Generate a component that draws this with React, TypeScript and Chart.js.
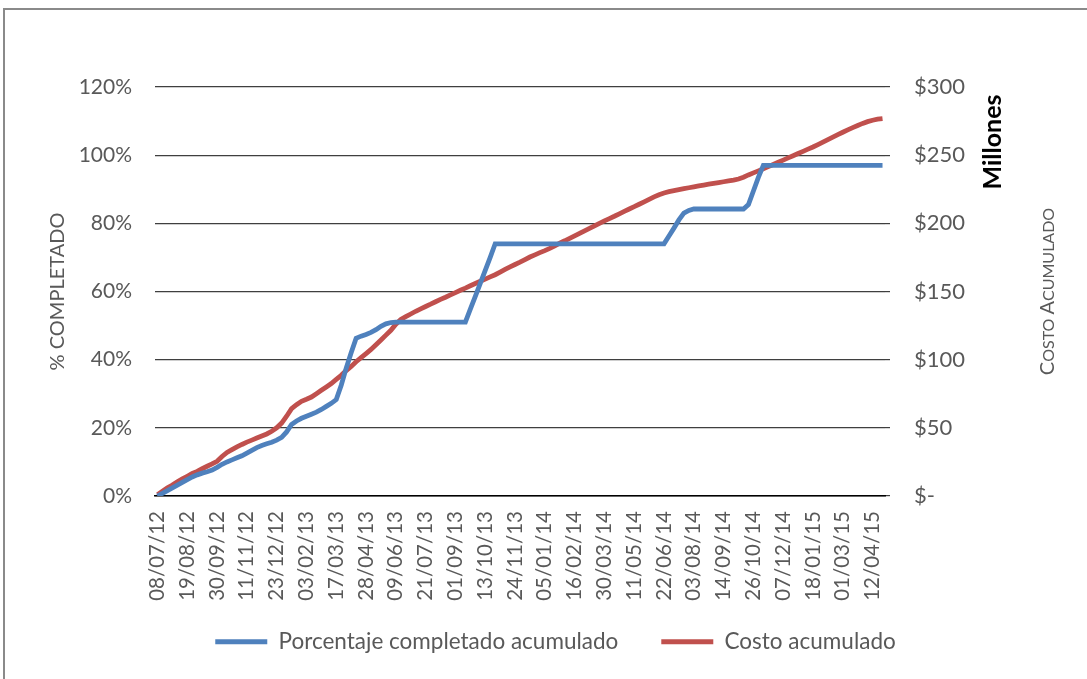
import React, { useEffect, useRef } from "react";
import { Chart, registerables } from "chart.js";

Chart.register(...registerables);

// Weekly series starting 08/07/12 (one value per week)
const START_DATE = { year: 2012, month: 7, day: 8 };
const WEEK_STEP_DAYS = 7;
const LABEL_EVERY = 6;

// % completado acumulado (percent)
const PCT_COMPLETED = [
  0, 0.8, 1.6, 2.4, 3.2, 4.0, 4.8, 5.6, 6.2, 6.7,
  7.1, 7.6, 8.4, 9.3, 10.0, 10.6, 11.2, 11.8, 12.6, 13.4,
  14.2, 14.8, 15.3, 15.8, 16.4, 17.2, 18.8, 21.0, 22.0, 22.8,
  23.4, 24.0, 24.6, 25.4, 26.3, 27.2, 28.3, 32.5, 37.5, 42.0,
  46.3, 46.9, 47.4, 48.0, 48.8, 49.8, 50.5, 50.9, 51, 51,
  51, 51, 51, 51, 51, 51, 51, 51, 51, 51,
  51, 51, 51, 54.8, 58.6, 62.4, 66.2, 70, 74, 74,
  74, 74, 74, 74, 74, 74, 74, 74, 74, 74,
  74, 74, 74, 74, 74, 74, 74, 74, 74, 74,
  74, 74, 74, 74, 74, 74, 74, 74, 74, 74,
  74, 74, 74, 76.3, 78.6, 81, 83, 83.8, 84.2, 84.2,
  84.2, 84.2, 84.2, 84.2, 84.2, 84.2, 84.2, 84.2, 84.2, 85.5,
  89.5, 93.5, 97, 97, 97, 97, 97, 97, 97, 97,
  97, 97, 97, 97, 97, 97, 97, 97, 97, 97,
  97, 97, 97, 97, 97, 97, 97,
];

// Costo acumulado (millones $)
const COST_ACCUM = [
  1, 3.5, 6, 8, 10.5, 12.5, 14.5, 16.5, 18, 20,
  21.8, 23.5, 25.5, 29, 32, 34, 36, 37.8, 39.5, 41,
  42.5, 44, 45.5, 47.5, 50, 53.5, 58.5, 64, 67, 69.5,
  71, 72.6, 75, 77.5, 80, 82.5, 85.5, 88.5, 92, 95,
  98.5, 101.5, 104.5, 107.5, 111, 114.5, 118, 121.5, 126, 129.5,
  131.5, 133.5, 135.5, 137.3, 139, 140.7, 142.5, 144.2, 145.8, 147.5,
  149.2, 150.9, 152.5, 154.2, 155.9, 157.5, 159.1, 160.7, 162.3, 164.2,
  166.2, 168, 169.8, 171.5, 173.4, 175.3, 176.9, 178.5, 180, 181.6,
  183.4, 185.5, 187.2, 189, 190.8, 192.7, 194.5, 196.3, 198.2, 200,
  201.8, 203.5, 205.2, 207, 208.8, 210.5, 212.2, 214, 215.8, 217.6,
  219.4, 221, 222.3, 223.2, 224, 224.7, 225.4, 226.1, 226.8, 227.5,
  228.1, 228.7, 229.3, 229.9, 230.5, 231.1, 231.7, 232.5, 233.8, 235.5,
  237, 238.5, 240, 241.6, 243.2, 244.8, 246.4, 248, 249.6, 251.2,
  252.8, 254.4, 256, 257.8, 259.6, 261.4, 263.2, 265, 266.8, 268.5,
  270.2, 271.8, 273.3, 274.6, 275.6, 276.4, 276.8,
];

const SERIES_NAMES = ["Porcentaje completado acumulado", "Costo acumulado"];
const LEFT_TITLE = "% COMPLETADO";
const RIGHT_UNIT = "Millones";
const RIGHT_TITLE_PARTS: [string, boolean][] = [
  ["C", true],
  ["OSTO ", false],
  ["A", true],
  ["CUMULADO", false],
];

function pad2(n: number) {
  return n < 10 ? "0" + n : String(n);
}

function buildWeeklyDates(count: number): string[] {
  const base = Date.UTC(START_DATE.year, START_DATE.month - 1, START_DATE.day);
  const out: string[] = [];
  for (let i = 0; i < count; i++) {
    const d = new Date(base + i * WEEK_STEP_DAYS * 86400000);
    out.push(
      pad2(d.getUTCDate()) + "/" + pad2(d.getUTCMonth() + 1) + "/" + pad2(d.getUTCFullYear() % 100)
    );
  }
  return out;
}

const CATEGORIES = buildWeeklyDates(PCT_COMPLETED.length);

const FONT = "Lato, 'Open Sans', sans-serif";
const TEXT_GRAY = "#595959";
const GRID = "#3f3f3f";
const BLUE = "#4f81bd";
const RED = "#c0504d";

const sideTitles = {
  id: "sideTitles",
  afterLayout(chart: any) {
    // lift the legend row closer to the axis labels
    const lg = chart.legend;
    if (lg) {
      lg.top -= 16;
      lg.bottom -= 16;
    }
  },
  afterDraw(chart: any) {
    const { ctx, chartArea } = chart;
    const midY = (chartArea.top + chartArea.bottom) / 2;
    ctx.save();
    // "Millones"
    ctx.save();
    ctx.translate(chartArea.right + 108, chartArea.top + 55);
    ctx.rotate(-Math.PI / 2);
    ctx.font = "bold 25px " + FONT;
    ctx.fillStyle = "#000";
    ctx.textAlign = "center";
    ctx.textBaseline = "middle";
    ctx.fillText(RIGHT_UNIT, 0, 0);
    ctx.restore();
    // "Costo acumulado" in small caps
    ctx.save();
    ctx.translate(chartArea.right + 162, midY);
    ctx.rotate(-Math.PI / 2);
    ctx.fillStyle = TEXT_GRAY;
    ctx.textBaseline = "alphabetic";
    ctx.textAlign = "left";
    const bigF = "20px " + FONT;
    const smallF = "16px " + FONT;
    let total = 0;
    for (const [t, big] of RIGHT_TITLE_PARTS) {
      ctx.font = big ? bigF : smallF;
      total += ctx.measureText(t).width;
    }
    let x = -total / 2;
    for (const [t, big] of RIGHT_TITLE_PARTS) {
      ctx.font = big ? bigF : smallF;
      ctx.fillText(t, x, 7);
      x += ctx.measureText(t).width;
    }
    ctx.restore();
    ctx.restore();
  },
};

export default function App() {
  const canvasRef = useRef<HTMLCanvasElement | null>(null);

  useEffect(() => {
    if (!canvasRef.current) return;
    const chart = new Chart(canvasRef.current, {
      type: "line",
      data: {
        labels: CATEGORIES,
        datasets: [
          {
            label: SERIES_NAMES[0],
            data: PCT_COMPLETED,
            borderColor: BLUE,
            backgroundColor: BLUE,
            borderWidth: 4.8,
            pointRadius: 0,
            tension: 0,
            yAxisID: "y",
          },
          {
            label: SERIES_NAMES[1],
            data: COST_ACCUM,
            borderColor: RED,
            backgroundColor: RED,
            borderWidth: 4.8,
            pointRadius: 0,
            tension: 0,
            yAxisID: "y1",
          },
        ],
      },
      options: {
        responsive: false,
        animation: false,
        devicePixelRatio: 1,
        layout: { padding: { top: 87, left: 24, right: 0, bottom: 0 } },
        plugins: {
          tooltip: { enabled: false },
          legend: {
            position: "bottom",
            labels: {
              usePointStyle: true,
              pointStyle: "line",
              pointStyleWidth: 52,
              padding: 43,
              color: TEXT_GRAY,
              font: { family: FONT, size: 22.5 },
            },
          },
        },
        scales: {
          x: {
            type: "category",
            offset: true,
            grid: { display: false },
            border: { display: true, color: "#000", width: 1.5 },
            ticks: {
              autoSkip: false,
              maxRotation: 90,
              minRotation: 90,
              padding: 7,
              color: TEXT_GRAY,
              font: { family: FONT, size: 20.5 },
              callback: (_v: any, i: number) => (i % LABEL_EVERY === 0 ? CATEGORIES[i] : null),
            },
            afterFit: (s: any) => {
              s.height = 107.5;
            },
          },
          y: {
            position: "left",
            min: 0,
            max: 120,
            grid: { color: GRID, lineWidth: 1.2, drawTicks: false },
            border: { display: false },
            ticks: {
              stepSize: 20,
              padding: 23,
              color: TEXT_GRAY,
              font: { family: FONT, size: 21 },
              callback: (v: any) => v + "%",
            },
            title: {
              display: true,
              text: LEFT_TITLE,
              color: TEXT_GRAY,
              font: { family: FONT, size: 20 },
              padding: { top: 22, bottom: 0 },
            },
            afterFit: (s: any) => {
              s.width = 131;
            },
          },
          y1: {
            position: "right",
            min: 0,
            max: 300,
            grid: { drawOnChartArea: false, color: GRID, lineWidth: 1.2, tickLength: 5 },
            border: { display: false },
            ticks: {
              stepSize: 50,
              padding: 24,
              color: TEXT_GRAY,
              font: { family: FONT, size: 22 },
              callback: (v: any) => (v === 0 ? "$-" : "$" + v),
            },
            afterFit: (s: any) => {
              s.width = 202;
            },
          },
        },
      },
      plugins: [sideTitles],
    });
    return () => chart.destroy();
  }, []);

  return (
    <div
      style={{
        position: "fixed",
        left: 0,
        top: 0,
        width: 1087,
        height: 679,
        overflow: "hidden",
        background: "#fff",
      }}
    >
      <div
        style={{
          position: "absolute",
          left: 3,
          top: 8,
          width: 1110,
          height: 700,
          border: "2px solid #8a8a8a",
          boxSizing: "border-box",
        }}
      />
      <canvas
        ref={canvasRef}
        width={1087}
        height={679}
        style={{ position: "absolute", left: 0, top: 0 }}
      />
    </div>
  );
}
